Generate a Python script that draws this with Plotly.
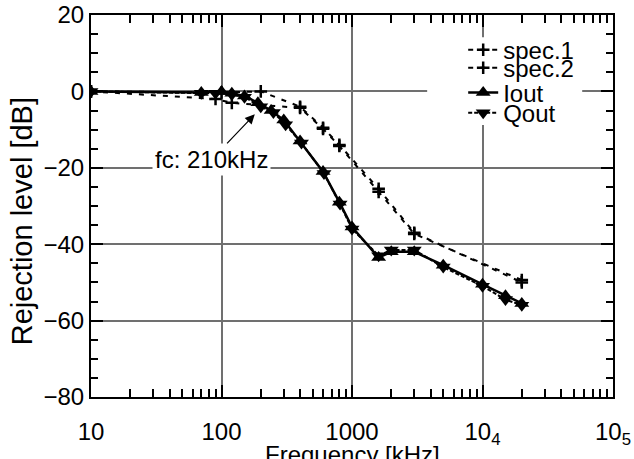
import plotly.graph_objects as go

# frequency in kHz, rejection level in dB
spec1_f = [10, 100, 200, 400, 600, 800, 1600, 3000, 20000]
spec1_db = [0, -0.3, 0, -4, -9.5, -14, -25.5, -37, -50]
spec2_f = [10, 90, 120, 400, 600, 800, 1600, 3000, 20000]
spec2_db = [0, -2, -3, -4.3, -9.8, -14.3, -26.3, -37.3, -49.4]

iout_f = [10, 70, 100, 120, 150, 190, 240, 300, 400, 600, 800, 1000,
          1600, 2000, 3000, 5000, 10000, 15000, 20000]
iout_db = [0, -0.3, 0, -0.5, -1.2, -3, -5, -7.5, -13, -21, -29, -35.5,
           -43.5, -42, -42, -45.5, -50.5, -53.5, -55.5]
qout_f = [10, 70, 90, 120, 150, 200, 250, 310, 410, 610, 810, 1000,
          1600, 2000, 3000, 5000, 10000, 15000, 20000]
qout_db = [0, -0.5, -0.5, -0.8, -1.5, -4, -5.5, -8.7, -13.5, -21.5, -29.5, -36,
           -43, -41.5, -41.5, -46, -51, -54.5, -56]

x_ticks = [10, 100, 1000, 10000, 100000]
x_labels = ["10", "100", "1000", "10<sub>4</sub>", "10<sub>5</sub>"]
x_minor = [m * 10 ** k for k in range(1, 5) for m in range(2, 10)]

FONT = "Liberation Sans, Arial, sans-serif"

fig = go.Figure()

fig.add_trace(go.Scatter(
    name="spec.1", x=spec1_f, y=spec1_db, mode="lines+markers", legend="legend",
    line=dict(color="black", width=2, dash="5px,7px"),
    marker=dict(symbol="cross-thin", size=9, color="black", line=dict(color="black", width=2.5))))
fig.add_trace(go.Scatter(
    name="spec.2", x=spec2_f, y=spec2_db, mode="lines+markers", legend="legend2",
    line=dict(color="black", width=2, dash="5px,7px"),
    marker=dict(symbol="cross-thin", size=9, color="black", line=dict(color="black", width=2.5))))
fig.add_trace(go.Scatter(
    name="Iout", x=iout_f, y=iout_db, mode="lines+markers", legend="legend3",
    line=dict(color="black", width=2.5),
    marker=dict(symbol="triangle-up", size=13, color="black")))
fig.add_trace(go.Scatter(
    name="Qout", x=qout_f, y=qout_db, mode="lines+markers", legend="legend4",
    line=dict(color="black", width=2, dash="4px,2px"),
    marker=dict(symbol="triangle-down", size=13, color="black")))

fig.add_annotation(
    x=2.255, y=-6, xref="x", yref="y", ax=-43, ay=45,
    text="fc: 210kHz", showarrow=True, arrowhead=2, arrowsize=1.6, arrowwidth=1.2,
    arrowcolor="black", bgcolor="white", borderpad=2,
    font=dict(family=FONT, size=24, color="black"))

# axis titles as paper annotations so they sit exactly where the reference has them
fig.add_annotation(
    text="Frequency [kHz]", xref="paper", yref="paper", x=0.5, y=0,
    xanchor="center", yanchor="top", yshift=-42, showarrow=False,
    font=dict(family=FONT, size=24, color="black"))
fig.add_annotation(
    text="Rejection level [dB]", xref="paper", yref="paper", x=0, y=0.46,
    xanchor="center", yanchor="middle", xshift=-69, textangle=-90, showarrow=False,
    font=dict(family=FONT, size=29, color="black"))

# white box behind the legend entries (hides the gridlines there)
fig.add_shape(type="rect", xref="paper", yref="paper",
              x0=0.644, x1=0.941, y0=0.712, y1=0.942,
              fillcolor="white", line=dict(width=0), layer="above")

leg = dict(x=0.713, xanchor="left", yanchor="middle", bgcolor="rgba(0,0,0,0)",
           borderwidth=0, font=dict(family=FONT, size=24, color="black"),
           itemwidth=30)

fig.update_layout(
    width=634, height=459,
    margin=dict(l=91, r=21, t=15, b=62),
    plot_bgcolor="white", paper_bgcolor="white",
    font=dict(family=FONT, size=24, color="black"),
    showlegend=True,
    legend=dict(leg, y=0.908),
    legend2=dict(leg, y=0.861),
    legend3=dict(leg, y=0.796),
    legend4=dict(leg, y=0.743),
    xaxis=dict(
        type="log", range=[1, 5], tickmode="array", tickvals=x_ticks, ticktext=x_labels,
        ticks="inside", ticklen=12, tickcolor="black", tickwidth=1.5,
        showline=True, linecolor="black", linewidth=2, mirror="allticks",
        showgrid=True, gridcolor="#707070", gridwidth=1.5, zeroline=False,
        ticklabelstandoff=12, automargin=False, ticklabeloverflow="allow",
        minor=dict(tickmode="array", tickvals=x_minor, ticks="inside", ticklen=8,
                   tickcolor="black", tickwidth=1.5, showgrid=False)),
    yaxis=dict(
        range=[-80, 20], dtick=20, tick0=0, automargin=False, ticklabeloverflow="allow",
        ticks="inside", ticklen=12, tickcolor="black", tickwidth=1.5,
        showline=True, linecolor="black", linewidth=2, mirror="allticks",
        showgrid=True, gridcolor="#707070", gridwidth=1.5, zeroline=False,
        minor=dict(dtick=5, ticks="inside", ticklen=7, tickcolor="black",
                   tickwidth=1.5, showgrid=False)),
)

fig.write_html("out.html", config={"displayModeBar": False},
               post_script="document.body.style.margin = '0';")
